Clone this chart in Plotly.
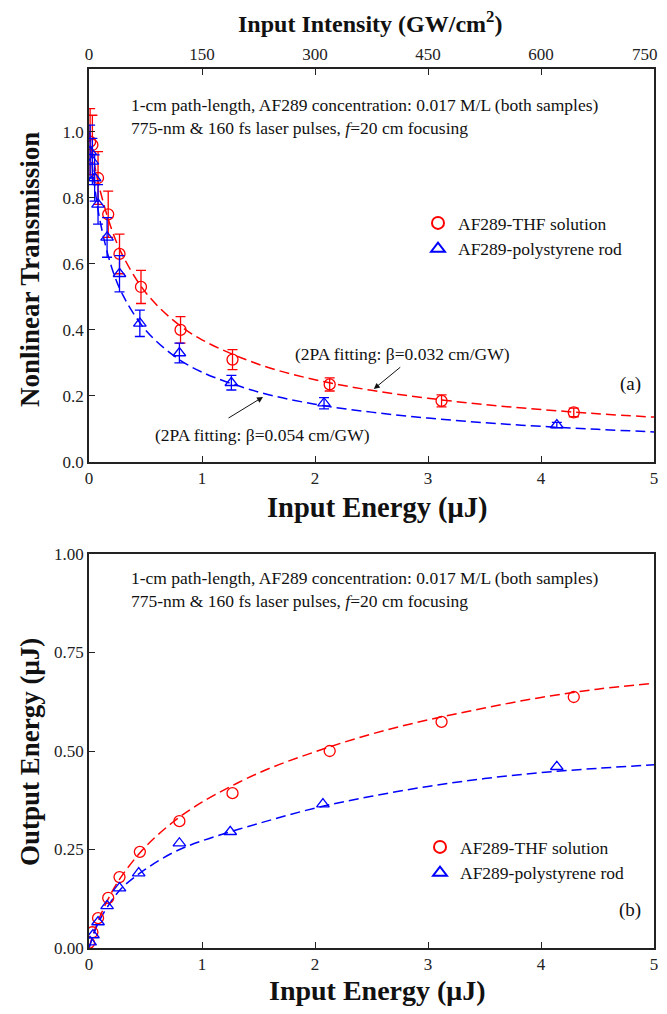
import plotly.graph_objects as go

# ---------------- data ----------------
# (a) nonlinear transmission vs input energy
thf_E = [0.01, 0.03, 0.08, 0.17, 0.27, 0.46, 0.81, 1.27, 2.13, 3.12, 4.29]
thf_T = [0.97, 0.96, 0.86, 0.75, 0.63, 0.53, 0.40, 0.31, 0.235, 0.185, 0.15]
thf_err = [0.10, 0.09, 0.08, 0.07, 0.06, 0.05, 0.04, 0.03, 0.02, 0.018, 0.013]

ps_E = [0.01, 0.03, 0.05, 0.08, 0.16, 0.27, 0.45, 0.80, 1.26, 2.08, 4.14]
ps_T = [0.94, 0.91, 0.86, 0.78, 0.68, 0.57, 0.42, 0.33, 0.24, 0.178, 0.112]
ps_err = [0.08, 0.07, 0.07, 0.06, 0.06, 0.055, 0.04, 0.03, 0.022, 0.017, 0.008]

fit_E = [0, 0.05, 0.1, 0.2, 0.3, 0.5, 0.75, 1.0, 1.5, 2.0, 2.5, 3.0, 3.5, 4.0, 4.5, 5.0]
fit_thf_T = [1.0, 0.898, 0.820, 0.705, 0.624, 0.514, 0.428, 0.370, 0.296, 0.249,
             0.217, 0.193, 0.174, 0.159, 0.146, 0.136]
fit_ps_T = [1.0, 0.835, 0.726, 0.590, 0.505, 0.400, 0.322, 0.272, 0.212, 0.175,
            0.151, 0.133, 0.119, 0.108, 0.099, 0.091]

# (b) output energy vs input energy
thf_out_E = [0.0, 0.03, 0.08, 0.17, 0.27, 0.45, 0.80, 1.27, 2.13, 3.12, 4.29]
thf_out = [0.013, 0.04, 0.076, 0.127, 0.18, 0.244, 0.322, 0.393, 0.50, 0.574, 0.637]
ps_out_E = [0.01, 0.035, 0.08, 0.16, 0.27, 0.44, 0.80, 1.25, 2.07, 4.14]
ps_out = [0.015, 0.033, 0.066, 0.107, 0.152, 0.19, 0.266, 0.295, 0.365, 0.46]

fit_out_thf = [0.0, 0.045, 0.082, 0.141, 0.187, 0.257, 0.321, 0.370, 0.444, 0.498,
               0.543, 0.579, 0.609, 0.636, 0.657, 0.672]
fit_out_ps = [0.0, 0.042, 0.074, 0.120, 0.155, 0.200, 0.243, 0.272, 0.316, 0.355,
              0.385, 0.410, 0.430, 0.445, 0.456, 0.465]

x_ticks = [0, 1, 2, 3, 4, 5]
int_ticks = [0, 150, 300, 450, 600, 750]
yA_ticks = [0.0, 0.2, 0.4, 0.6, 0.8, 1.0]
yA_labels = ["0.0", "0.2", "0.4", "0.6", "0.8", "1.0"]
yB_ticks = [0.0, 0.25, 0.5, 0.75, 1.0]
yB_labels = ["0.00", "0.25", "0.50", "0.75", "1.00"]

RED = "#ff0000"
BLUE = "#0000ff"
FONT = "Liberation Serif"
AX = "#222222"
DASH = "10px,5px"

# page offset (body margin) compensation
OFF = 8
W = 667 - OFF
H = 1014 - 2 * OFF


def fx(px):
    return (px - OFF) / W


def fy(py):
    return 1 - (py - OFF) / H


fig = go.Figure()

# ---- panel (a) ----
fig.add_trace(go.Scatter(x=fit_E, y=fit_thf_T, mode="lines", line=dict(color=RED, width=1.5, dash=DASH, shape="spline"),
                         showlegend=False, xaxis="x", yaxis="y"))
fig.add_trace(go.Scatter(x=fit_E, y=fit_ps_T, mode="lines", line=dict(color=BLUE, width=1.5, dash=DASH, shape="spline"),
                         showlegend=False, xaxis="x", yaxis="y"))
fig.add_trace(go.Scatter(x=thf_E, y=thf_T, mode="markers", name="AF289-THF solution",
                         marker=dict(symbol="circle-open", size=11, color=RED, line=dict(width=1.3)),
                         error_y=dict(type="data", array=thf_err, color=RED, thickness=1.3, width=5),
                         xaxis="x", yaxis="y", legend="legend"))
fig.add_trace(go.Scatter(x=ps_E, y=ps_T, mode="markers", name="AF289-polystyrene rod",
                         marker=dict(symbol="triangle-up-open", size=11, color=BLUE, line=dict(width=1.3)),
                         error_y=dict(type="data", array=ps_err, color=BLUE, thickness=1.3, width=5),
                         xaxis="x", yaxis="y", legend="legend"))
# dummy trace to carry the intensity axis
fig.add_trace(go.Scatter(x=[int_ticks[0], int_ticks[-1]], y=[None, None], mode="markers",
                         showlegend=False, hoverinfo="skip", xaxis="x3", yaxis="y"))

# ---- panel (b) ----
fig.add_trace(go.Scatter(x=fit_E, y=fit_out_thf, mode="lines", line=dict(color=RED, width=1.5, dash=DASH, shape="spline"),
                         showlegend=False, xaxis="x2", yaxis="y2"))
fig.add_trace(go.Scatter(x=fit_E, y=fit_out_ps, mode="lines", line=dict(color=BLUE, width=1.5, dash=DASH, shape="spline"),
                         showlegend=False, xaxis="x2", yaxis="y2"))
fig.add_trace(go.Scatter(x=thf_out_E, y=thf_out, mode="markers", name="AF289-THF solution",
                         marker=dict(symbol="circle-open", size=11, color=RED, line=dict(width=1.3)),
                         xaxis="x2", yaxis="y2", legend="legend2"))
fig.add_trace(go.Scatter(x=ps_out_E, y=ps_out, mode="markers", name="AF289-polystyrene rod",
                         marker=dict(symbol="triangle-up-open", size=11, color=BLUE, line=dict(width=1.3)),
                         xaxis="x2", yaxis="y2", legend="legend2"))

xdom = [fx(89), fx(654)]
ydomA = [fy(462), fy(69)]
ydomB = [fy(948), fy(554)]

common_ax = dict(showgrid=False, zeroline=False, showline=True, linecolor=AX, linewidth=1.5,
                 ticks="inside", ticklen=6, tickwidth=1.2, tickcolor=AX, automargin=False,
                 ticklabeloverflow="allow",
                 tickfont=dict(family=FONT, size=17, color="#222"))

# intensity axis: last label drawn separately so it stays inside the page
int_text = [str(v) for v in int_ticks[:-1]] + [""]

fig.update_layout(
    width=W, height=H, margin=dict(l=0, r=0, t=0, b=0, autoexpand=False),
    paper_bgcolor="white", plot_bgcolor="white",
    font=dict(family=FONT, color="#111"),
    xaxis=dict(domain=xdom, anchor="y", range=[0, 5], tickvals=x_ticks, mirror=False, **common_ax),
    xaxis3=dict(overlaying="x", side="top", anchor="y", range=[0, 750], tickvals=int_ticks,
                ticktext=int_text, **common_ax),
    yaxis=dict(domain=ydomA, anchor="x", range=[0, 1.19], tickvals=yA_ticks, ticktext=yA_labels,
               mirror=True, **common_ax),
    xaxis2=dict(domain=xdom, anchor="y2", range=[0, 5], tickvals=x_ticks, mirror=True, **common_ax),
    yaxis2=dict(domain=ydomB, anchor="x2", range=[0, 1.0], tickvals=yB_ticks, ticktext=yB_labels,
                mirror=True, **common_ax),
    legend=dict(x=fx(418), y=fy(205), xanchor="left", yanchor="top", bgcolor="rgba(0,0,0,0)",
                font=dict(family=FONT, size=17.5, color="#111"), tracegroupgap=0, itemsizing="constant"),
    legend2=dict(x=fx(420), y=fy(829), xanchor="left", yanchor="top", bgcolor="rgba(0,0,0,0)",
                 font=dict(family=FONT, size=17.5, color="#111"), tracegroupgap=0, itemsizing="constant"),
)


def pann(text, px, py, size=16, bold=False, xanchor="center", angle=0, color="#111"):
    if bold:
        text = "<b>" + text + "</b>"
    fig.add_annotation(text=text, x=fx(px), y=fy(py), xref="paper", yref="paper",
                       xanchor=xanchor, yanchor="middle", showarrow=False, textangle=angle,
                       font=dict(family=FONT, size=size, color=color))


# last intensity tick label
pann(str(int_ticks[-1]), 660, 55, size=17, xanchor="right", color="#222")

# axis titles
pann("Input Intensity (GW/cm<sup>2</sup>)", 370, 22, size=24, bold=True)
pann("Input Energy (\u03bcJ)", 377, 508, size=28.5, bold=True)
pann("Nonlinear Transmission", 30, 270, size=27, bold=True, angle=-90)
pann("Input Energy (\u03bcJ)", 377, 990, size=28, bold=True)
pann("Output Energy (\u03bcJ)", 30, 752, size=27, bold=True, angle=-90)

# notes
line1 = "1-cm path-length, AF289 concentration: 0.017 M/L (both samples)"
line2 = "775-nm &amp; 160 fs laser pulses, <i>f</i>=20 cm focusing"
pann(line1, 129, 105, size=17.5, xanchor="left")
pann(line2, 129, 128, size=17.5, xanchor="left")
pann(line1, 129, 578, size=17.5, xanchor="left")
pann(line2, 129, 601, size=17.5, xanchor="left")
pann("(a)", 643, 384, size=19, xanchor="right")
pann("(b)", 643, 910, size=19, xanchor="right")

# fit annotations
pann("(2PA fitting: \u03b2=0.032 cm/GW)", 402, 354, size=17.5)
pann("(2PA fitting: \u03b2=0.054 cm/GW)", 262, 435, size=17.5)
fig.add_annotation(x=2.52, y=0.221, xref="x", yref="y", ax=28, ay=-23, axref="pixel", ayref="pixel",
                   showarrow=True, arrowhead=2, arrowsize=1.2, arrowwidth=1, arrowcolor="#111", text="")
fig.add_annotation(x=1.54, y=0.197, xref="x", yref="y", ax=-36, ay=22, axref="pixel", ayref="pixel",
                   showarrow=True, arrowhead=2, arrowsize=1.2, arrowwidth=1, arrowcolor="#111", text="")

fig.write_html("out.html")
